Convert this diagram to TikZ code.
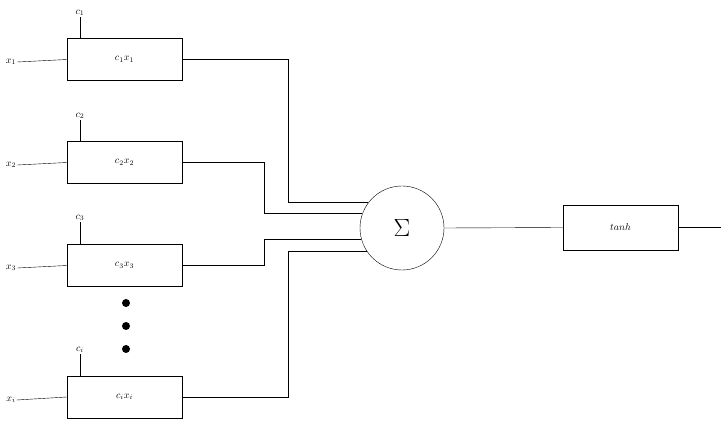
\documentclass[tikz,border=0pt]{standalone}
\begin{document}
\begin{tikzpicture}[x=1pt,y=-1pt,
  box/.style={draw,minimum width=115pt,minimum height=42pt,inner sep=0pt},
  lbl/.style={inner sep=1pt},
  dot/.style={fill,circle,inner sep=0pt,minimum size=8pt}]
\useasboundingbox (0,0) rectangle (721,422);
\node[box] (b1) at (124.5,59.5) {$c_1x_1$};
\node[box] (b2) at (124.5,162.5) {$c_2x_2$};
\node[box] (b3) at (124.5,265.5) {$c_3x_3$};
\node[box] (b4) at (124.5,397) {$c_ix_i$};
\node[lbl] (x1) at (11,62) {$x_1$};
\node[lbl] (x2) at (11,165) {$x_2$};
\node[lbl] (x3) at (11,268) {$x_3$};
\node[lbl] (x4) at (11,400) {$x_i$};
\node[lbl] (k1) at (80,13) {$c_1$};
\node[lbl] (k2) at (80,116) {$c_2$};
\node[lbl] (k3) at (80,218) {$c_3$};
\node[lbl] (k4) at (80,350) {$c_i$};
\foreach \i in {1,...,4}{
  \draw (x\i.east) -- (b\i.west);
  \draw (k\i.south) -- (k\i.south |- b\i.north);
}
\node[dot] (d1) at (126,303) {};
\node[dot] (d2) at (126,326) {};
\node[dot] (d3) at (126,349) {};
\node[draw,circle,minimum size=84pt,inner sep=0pt] (c) at (402,228) {\Huge$\Sigma$};
\draw (b1.east) -- ++(106,0) |- (c.143.5);
\draw (b2.east) -- ++(82,0) |- (c.160.5);
\draw (b3.east) -- ++(82,0) |- (c.196.6);
\draw (b4.east) -- ++(106,0) |- (c.214.8);
\node[draw,minimum width=115pt,minimum height=45pt,inner sep=0pt] (t) at (620.5,227.5) {$tanh$};
\draw (c.east) -- (t.west);
\coordinate (o) at (721,227.5);
\draw (t.east) -- (o);
\end{tikzpicture}
\end{document}
